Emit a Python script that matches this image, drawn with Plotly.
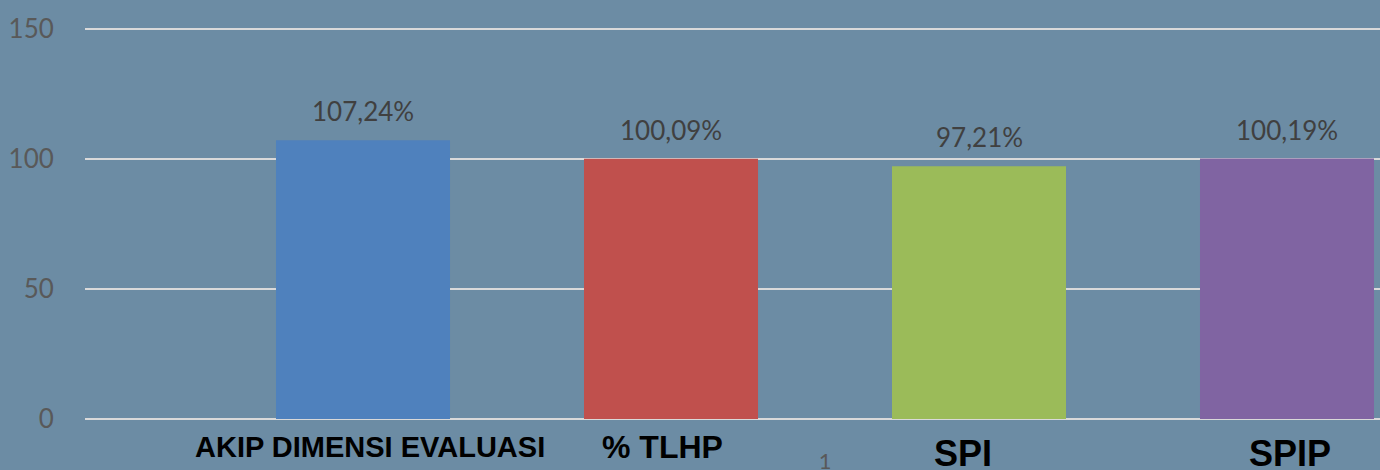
import plotly.graph_objects as go

category = ["1"]
series_names = ["AKIP DIMENSI EVALUASI", "% TLHP", "SPI", "SPIP"]
values = [107.24, 100.09, 97.21, 100.19]
value_labels = ["107,24%", "100,09%", "97,21%", "100,19%"]
colors = ["#4F81BD", "#C0504D", "#9BBB59", "#8064A2"]
y_ticks = [0, 50, 100, 150]

W, H = 1380, 470
ML, MR, MT, MB = 85, 0, 28, 50
plot_w = W - ML - MR

bargap = 0.1
bargroupgap = 0.435
unit_px = 1232 / (1 - bargap)          # pixels per category unit
center_px = 740                         # group centre from plot left
x_range = [-center_px / unit_px, (plot_w - center_px) / unit_px]
pitch_px = (1 - bargap) / len(values) * unit_px

BG = "#6C8CA4"
fig = go.Figure()
for name, v, c in zip(series_names, values, colors):
    fig.add_trace(go.Bar(x=category, y=[v], name=name, marker=dict(color=c, line=dict(width=0))))

for i, (v, lab) in enumerate(zip(values, value_labels)):
    fig.add_annotation(x=0, y=v, xref="x", yref="y", text=lab, showarrow=False,
                       xshift=pitch_px * (i - (len(values) - 1) / 2), yanchor="bottom", yshift=11,
                       font=dict(family="Lato", size=26, color="#404040"))

name_styles = [(0.22, 29, -27), (0.4456, 32, -27), (0.678, 36, -33), (0.9305, 36, -33)]
for name, (xp, fs, ys) in zip(series_names, name_styles):
    fig.add_annotation(x=xp, y=0, xref="paper", yref="paper", text="<b>" + name + "</b>", showarrow=False,
                       xanchor="center", yanchor="middle", yshift=ys,
                       font=dict(family="Liberation Sans", size=fs, color="#000000"))

fig.update_layout(
    width=W, height=H, margin=dict(l=ML, r=MR, t=MT, b=MB),
    paper_bgcolor=BG, plot_bgcolor=BG, showlegend=False,
    barmode="group", bargap=bargap, bargroupgap=bargroupgap,
    xaxis=dict(type="category", range=x_range, showgrid=False, zeroline=False, showline=False,
               automargin=False, ticks="outside", ticklen=22, tickcolor="rgba(0,0,0,0)",
               tickfont=dict(family="Lato", size=22, color="#595959")),
    yaxis=dict(range=[-0.4, 150.4], tickvals=y_ticks, showgrid=True, gridcolor="#D9D9D9", gridwidth=2,
               automargin=False, zeroline=False, showline=False, ticks="outside", ticklen=25,
               tickcolor="rgba(0,0,0,0)",
               tickfont=dict(family="Lato", size=26, color="#595959")),
)
fig.write_html("out.html", config={"displayModeBar": False},
               post_script="document.body.style.margin='0px';document.body.style.overflow='hidden';")
